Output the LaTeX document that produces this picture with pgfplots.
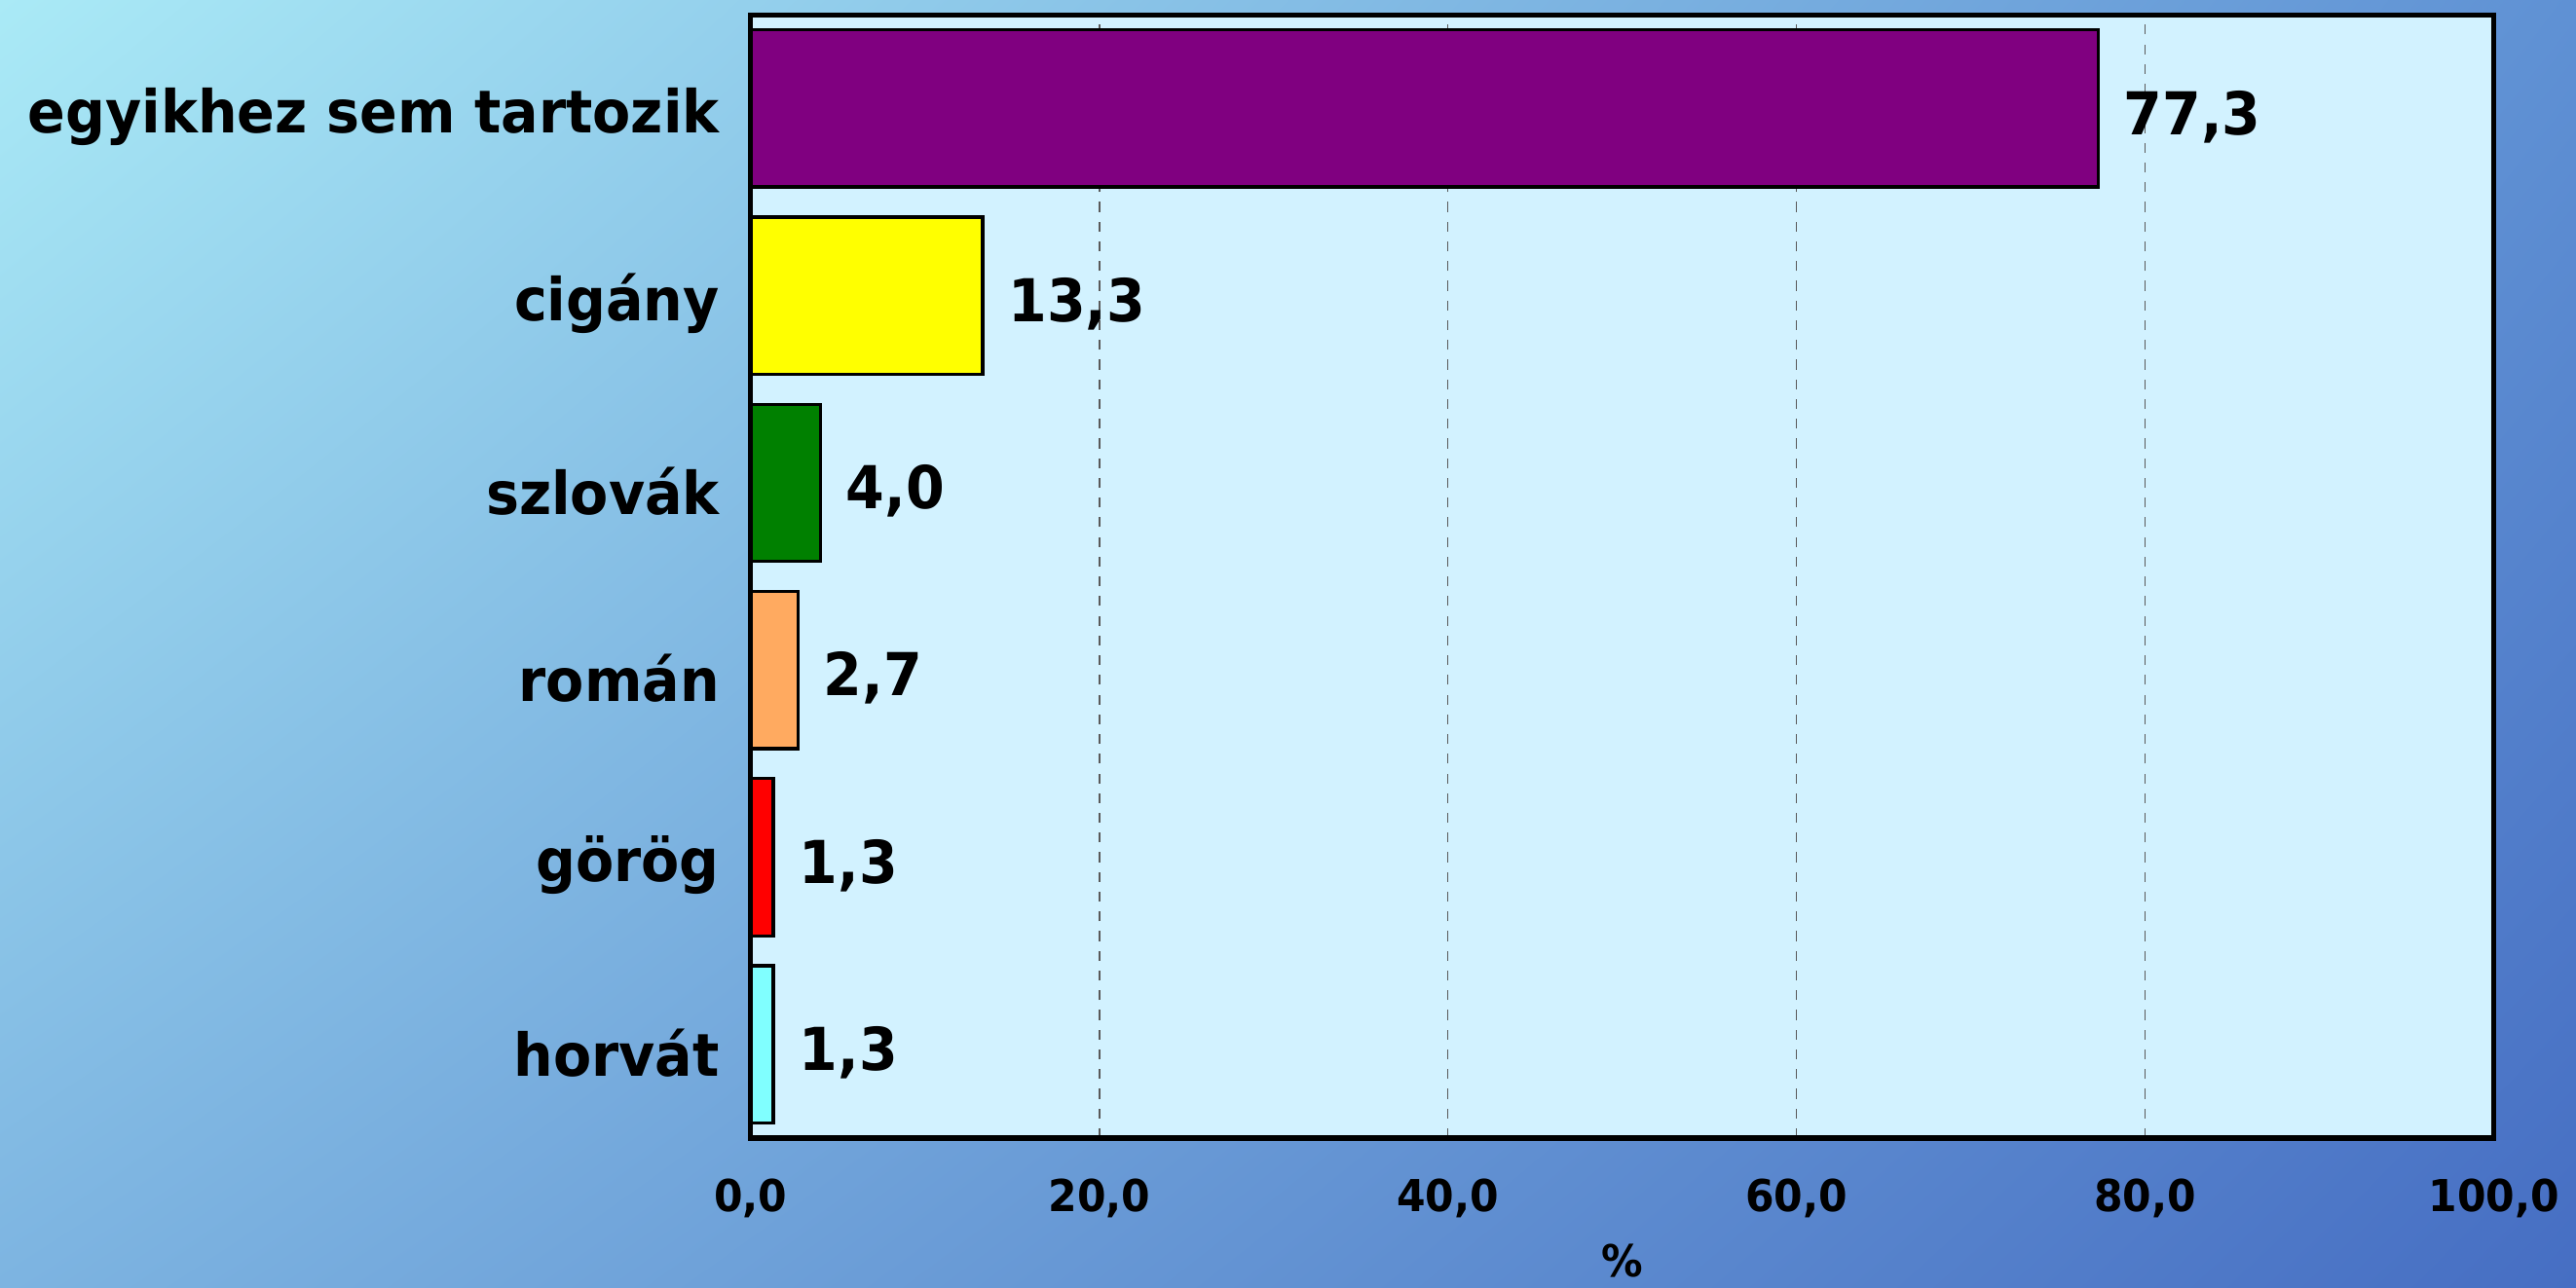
\documentclass[border=0pt]{standalone}
\usepackage{pgfplots}
\pgfplotsset{compat=1.18}
\usetikzlibrary{shadings}
\usepackage{fontspec}
\setmainfont{DejaVu Sans}[FakeStretch=0.94]
\definecolor{bgcyan}{RGB}{210,242,255}
\definecolor{bgul}{RGB}{170,234,246}
\definecolor{bgur}{RGB}{95,145,212}
\definecolor{bgll}{RGB}{125,180,225}
\definecolor{bglr}{RGB}{70,110,195}
\definecolor{purp}{RGB}{128,0,128}
\definecolor{yel}{RGB}{255,255,0}
\definecolor{grn}{RGB}{0,128,0}
\definecolor{orng}{RGB}{255,170,96}
\definecolor{rd}{RGB}{255,0,0}
\definecolor{cyn}{RGB}{128,255,255}
\begin{document}
\begin{tikzpicture}[x=1pt,y=1pt]
% background
\shade[upper left=bgul, upper right=bgur, lower left=bgll, lower right=bglr]
  (0,0) rectangle (784,392);
\path[use as bounding box] (0,0) rectangle (784,392);

\begin{axis}[
  at={(228.5pt,45.5pt)}, anchor=south west,
  scale only axis,
  width=530.5pt, height=342pt,
  axis background/.style={fill=bgcyan},
  axis line style={line width=1.5pt},
  xmin=0, xmax=100,
  ymin=-0.5, ymax=5.5,
  xtick={0,20,40,60,80,100},
  ytick={0,1,2,3,4,5},
  yticklabels={horvát,görög,román,szlovák,cigány,egyikhez sem tartozik},
  major tick length=0pt,
  xmajorgrids,
  grid style={dashed, black!65, line width=0.4pt},
  /pgf/number format/assume math mode=true,
  /pgf/number format/.cd, use comma, fixed, fixed zerofill, precision=1,
  /pgfplots/.cd,
  xticklabel style={font=\fontsize{13.4}{16}\selectfont\bfseries, yshift=-9pt},
  yticklabel style={font=\fontsize{18}{20}\selectfont\bfseries, xshift=-6pt, yshift=-2.5pt},
  xlabel={\%},
  xlabel style={font=\fontsize{13.4}{16}\selectfont\bfseries, yshift=-1pt},
  xbar, bar shift=0pt, bar width=0.84,
  nodes near coords,
  every node near coord/.append style={font=\fontsize{18}{20}\selectfont\bfseries, xshift=4pt, yshift=-2.5pt, black},
  clip=false,
]
\addplot[fill=purp, draw=black, line width=1pt] coordinates {(77.3,5)};
\addplot[fill=yel, draw=black, line width=1pt] coordinates {(13.3,4)};
\addplot[fill=grn, draw=black, line width=1pt] coordinates {(4.0,3)};
\addplot[fill=orng, draw=black, line width=1pt] coordinates {(2.7,2)};
\addplot[fill=rd, draw=black, line width=1pt] coordinates {(1.3,1)};
\addplot[fill=cyn, draw=black, line width=1pt] coordinates {(1.3,0)};
\end{axis}
\end{tikzpicture}
\end{document}
